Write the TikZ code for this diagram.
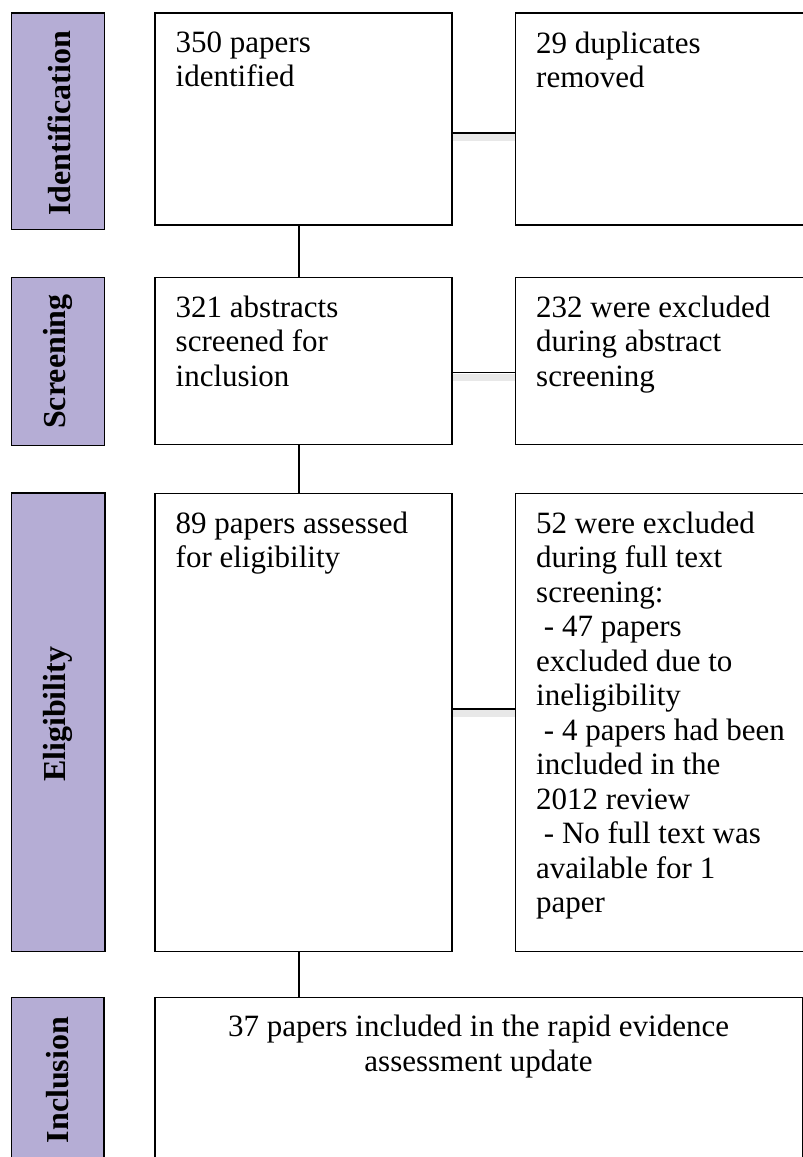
\documentclass[tikz,border=0pt]{standalone}
\usepackage{fontspec}
\usetikzlibrary{calc}
\setmainfont{Liberation Serif}
\definecolor{stagefill}{RGB}{181,173,213}
\begin{document}
\begin{tikzpicture}[x=1pt,y=-1pt,
  stagebox/.style={draw=black, line width=1.4pt, fill=stagefill, anchor=north west, inner sep=0pt},
  mainbox/.style={draw=black, line width=1.2pt, fill=white, anchor=north west, inner sep=0pt},
  boxtext/.style={anchor=north west, inner sep=0pt, align=left, font=\fontsize{31}{34.5}\selectfont},
  ctrtext/.style={anchor=north, inner sep=0pt, align=center, font=\fontsize{31}{34.5}\selectfont},
  stagetext/.style={rotate=90, inner sep=0pt, font=\bfseries\fontsize{32}{36}\selectfont},
  link/.style={draw=black, line width=1.2pt},
  hlink/.style={link, preaction={draw=black!9, line width=7pt, transform canvas={yshift=-4.5pt}}}]
\useasboundingbox (0,0) rectangle (803,1157);
\clip (0,0) rectangle (803,1157);
\fill[white] (0,0) rectangle (803,1157);

% stage labels
\node[stagebox, minimum width=93pt, minimum height=216.7pt] (l1) at (10.7,12.3) {};
\node[stagebox, minimum width=93pt, minimum height=168.3pt] (l2) at (10.7,276.7) {};
\node[stagebox, minimum width=93.5pt, minimum height=458.5pt] (l3) at (10.7,492.3) {};
\node[stagebox, minimum width=92.6pt, minimum height=170pt] (l4) at (10.7,997) {};
\node[stagetext] (s1) at ($(l1.center)+(1,2)$) {Identification};
\node[stagetext] (s2) at (l2.center) {Screening};
\node[stagetext] (s3) at ($(l3.center)+(0,-8)$) {Eligibility};
\node[stagetext] (s4) at ($(l4.north)+(0,83)$) {Inclusion};

% main boxes
\node[mainbox, minimum width=297pt, minimum height=212pt] (b1) at (154.3,12.3) {};
\node[mainbox, minimum width=330pt, minimum height=212pt] (r1) at (514.7,12.3) {};
\node[mainbox, minimum width=297pt, minimum height=167pt] (b2) at (154.3,276.7) {};
\node[mainbox, minimum width=330pt, minimum height=167.3pt] (r2) at (514.7,276.7) {};
\node[mainbox, minimum width=297pt, minimum height=458.2pt] (b3) at (154.3,492.5) {};
\node[mainbox, minimum width=330pt, minimum height=458pt] (r3) at (514.7,492.7) {};
\node[mainbox, minimum width=647.7pt, minimum height=180pt] (b4) at (154.3,997) {};

% texts
\node[boxtext] (t1) at (175.5,31.3) {350 papers\\identified};
\node[boxtext] (u1) at (536,31.3) {29 duplicates\\removed};
\node[boxtext] (t2) at (175.5,295.7) {321 abstracts\\screened for\\inclusion};
\node[boxtext] (u2) at (536,295.7) {232 were excluded\\during abstract\\screening};
\node[boxtext] (t3) at (175.5,511.5) {89 papers assessed\\for eligibility};
\node[boxtext] (u3) at (536,511.5) {52 were excluded\\during full text\\screening:\\\ - 47 papers\\excluded due to\\ineligibility\\\ - 4 papers had been\\included in the\\2012 review\\\ - No full text was\\available for 1\\paper};
\node[ctrtext] (t4) at (478.5,1015) {37 papers included in the rapid evidence\\assessment update};

% connectors
\coordinate (vx) at (299,0);
\draw[link] (b1.south -| vx) -- (b2.north -| vx);
\draw[link] (b2.south -| vx) -- (b3.north -| vx);
\draw[link] (b3.south -| vx) -- (b4.north -| vx);
\coordinate (h1) at (0,133);
\coordinate (h2) at (0,372.7);
\coordinate (h3) at (0,709);
\draw[hlink] (b1.east |- h1) -- (r1.west |- h1);
\draw[hlink] (b2.east |- h2) -- (r2.west |- h2);
\draw[hlink] (b3.east |- h3) -- (r3.west |- h3);
\end{tikzpicture}
\end{document}
